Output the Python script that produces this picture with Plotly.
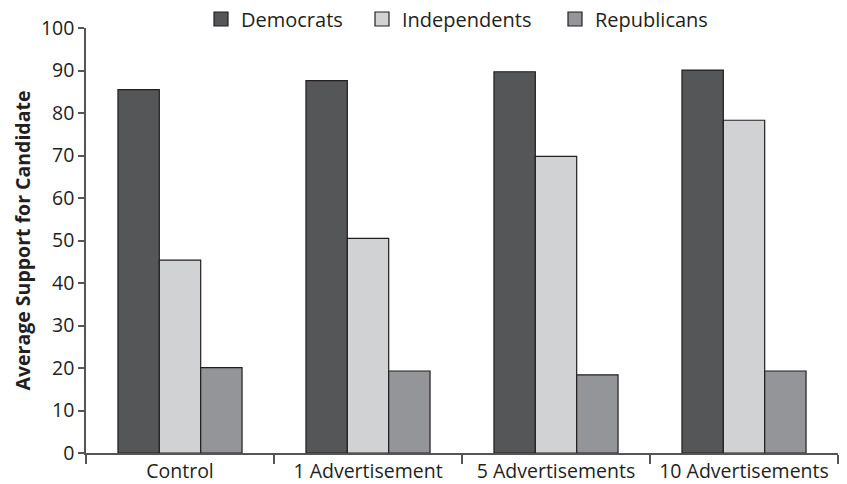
import plotly.graph_objects as go

categories = ["Control", "1 Advertisement", "5 Advertisements", "10 Advertisements"]
democrats = [85.5, 87.6, 89.7, 90.1]
independents = [45.4, 50.5, 69.8, 78.3]
republicans = [20.1, 19.3, 18.4, 19.3]

series = [
    ("Democrats", democrats, "#555658", "legend"),
    ("Independents", independents, "#d1d2d4", "legend2"),
    ("Republicans", republicans, "#939598", "legend3"),
]

OUTLINE = "#231f20"
fig = go.Figure()
for name, vals, color, lg in series:
    fig.add_trace(go.Bar(
        x=categories, y=vals, name=name, showlegend=False,
        marker=dict(color=color, line=dict(color=OUTLINE, width=1.2)),
    ))
# legend keys (larger square swatches, as in the original)
for name, vals, color, lg in series:
    fig.add_trace(go.Scatter(
        x=[None], y=[None], mode="markers", name=name, legend=lg, hoverinfo="skip",
        marker=dict(symbol="square", size=14, color=color, line=dict(color=OUTLINE, width=1.2)),
    ))

font_family = "Open Sans, Noto Sans, sans-serif"
FS = 19.5
W, H = 847, 484
L, R, T = 86, 9, 28
B = H - 453
PW = W - L - R
PH = H - T - B


def lx(px):
    return (px - L) / PW


def ly(py):
    return (H - B - py) / PH


leg_common = dict(orientation="h", yanchor="middle", y=ly(19), xanchor="left",
                  font=dict(size=20), bgcolor="rgba(0,0,0,0)", borderwidth=0,
                  itemsizing="trace")

fig.update_layout(
    width=W, height=H,
    margin=dict(l=L, r=R, t=T, b=B, autoexpand=False),
    paper_bgcolor="white", plot_bgcolor="white",
    barmode="group", bargap=0.34, bargroupgap=0,
    font=dict(family=font_family, size=FS, color="#231f20"),
    showlegend=True,
    legend=dict(x=lx(240 - 39), **leg_common),
    legend2=dict(x=lx(401 - 39), **leg_common),
    legend3=dict(x=lx(594 - 39), **leg_common),
    xaxis=dict(
        showline=True, linecolor="#555", linewidth=1.5, automargin=False,
        ticks="outside", tickson="boundaries", ticklen=9, tickcolor="#555", tickwidth=1.5,
        tickfont=dict(size=FS), showgrid=False, zeroline=False,
    ),
    yaxis=dict(
        range=[0, 100], dtick=10, tick0=0, automargin=False,
        showline=True, linecolor="#555", linewidth=1.5,
        ticks="outside", ticklen=6, tickcolor="#555", tickwidth=1.5,
        tickfont=dict(size=FS), showgrid=False, zeroline=False,
        title=dict(text="<b>Average Support for Candidate</b>", font=dict(size=FS), standoff=5),
    ),
)

fig.write_html("out.html", config={"displayModeBar": False},
               post_script="document.body.style.margin='0';")
